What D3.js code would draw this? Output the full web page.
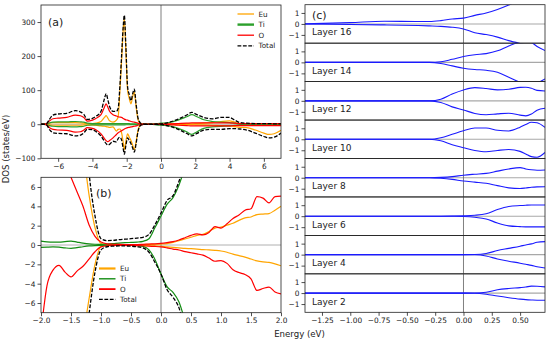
<!DOCTYPE html>
<html><head><meta charset="utf-8">
<script src="https://cdn.jsdelivr.net/npm/d3@7"></script>
<style>body{margin:0;background:#fff}svg{display:block;font-family:"DejaVu Sans",sans-serif}</style>
</head><body>
<svg id="fig" width="550" height="343"></svg>
<script>
// ---------- Panel (a): full-range DOS ----------
const aE = [-7.0,-6.7,-6.5,-6.3,-6.0,-5.5,-5.0,-4.7,-4.5,-4.3,-4.0,-3.8,-3.5,-3.3,-3.2,-3.1,-3.0,-2.8,-2.6,-2.5,-2.4,-2.3,-2.2,-2.14,-2.05,-1.95,-1.85,-1.75,-1.65,-1.56,-1.45,-1.35,-1.25,-1.15,-1.0,-0.5,0,0.5,1.0,1.5,1.8,2.1,2.5,3.0,3.5,4.0,4.3,4.6,5.0,5.5,6.0,6.3,6.6,7.0];
const aEuUp = [0,0,3,5,5,5,5,4,3,2,2,3,8,20,25,18,10,6,12,22,95,185,280,310,215,100,75,60,82,95,50,15,4,1,0,0,0,0.5,1,1,1,2,3,5,8,10,6,2,1,1,1,1,0,0];
const aTiUp = [0,1,4,6,7,7,8,7,6,3,2,2,2,2,2,2,2,2,2,2,2,2,2,2,1.5,1.5,1.5,1,1,1,1,0.5,0.3,0.2,0.1,0.2,3,5,12,22,28,22,13,8,6,5,3,1,0.5,0.5,0.5,0.5,0.5,0.5];
const aOUp = [0,1,10,16,18,20,27,25,20,9,12,17,28,50,60,50,38,28,24,22,21,20,17,15,13,12,10,8,7,6,5,3,2,1,0.3,0,0.2,1,2,3,4,4,4,4,4,4,3,2,2,2,2,2,2,2];
const aTotUp = [0,1,15,27,30,32,40,36,29,14,17,23,38,75,90,72,52,38,38,46,110,200,290,320,230,110,87,69,90,103,58,20,7,2,0.5,0.5,1,6,15,27,35,28,20,16,20,20,12,5,3,2,2,2,1,1];
const aEuDn = [0,0,-2,-3,-3,-3,-3,-3,-2,-2,-2,-3,-5,-6,-7,-8,-9,-8,-20,-15,-14,-25,-55,-75,-50,-28,-38,-48,-62,-75,-50,-20,-5,-1,0,0,0,-0.5,-1,-1,-1,-2,-2,-3,-4,-5,-7,-9,-10,-17,-26,-30,-28,-18];
const aTiDn = [0,-1,-4,-6,-7,-7,-8,-7,-6,-3,-2,-2,-2,-2,-2,-2,-2,-2,-2,-2,-2,-2,-2,-2,-1.5,-1.5,-1.5,-1,-1,-1,-1,-0.5,-0.3,-0.2,-0.1,-0.2,-3,-5,-12,-22,-30,-22,-12,-8,-6,-5,-3,-1,-0.5,-0.5,-0.5,-0.5,-0.5,-0.5];
const aODn = [0,-1,-10,-15,-17,-18,-23,-22,-17,-10,-12,-16,-28,-42,-48,-51,-48,-40,-30,-25,-22,-19,-16,-14,-12,-10,-9,-8,-7,-6,-5,-3,-2,-1,-0.3,0,-0.2,-1,-3,-4,-5,-5,-5,-5,-5,-5,-4,-4,-4,-4,-4,-4,-4,-4];
const aTotDn = [0,-1,-16,-25,-27,-28,-34,-32,-25,-15,-16,-21,-35,-50,-57,-61,-59,-50,-52,-42,-38,-46,-73,-88,-63,-40,-48,-57,-70,-82,-56,-24,-7,-2,-0.5,-0.5,-1,-6,-15,-27,-34,-27,-17,-15,-15,-13,-13,-14,-17,-26,-36,-40,-38,-26];
const aXTicks = [-6,-4,-2,0,2,4,6];
const aYTicks = [-100,0,100,200,300];

// ---------- Panel (b): zoom near the gap ----------
const bE = [-2.0,-1.9,-1.8,-1.7,-1.6,-1.5,-1.4,-1.3,-1.2,-1.1,-1.0,-0.9,-0.8,-0.7,-0.6,-0.5,-0.4,-0.3,-0.2,-0.1,0.0,0.1,0.2,0.3,0.4,0.5,0.6,0.7,0.8,0.9,1.0,1.1,1.2,1.3,1.4,1.5,1.6,1.7,1.8,1.9,2.0];
const bEuUp = [60,50,40,31,24,18,14,10,5.2,1.8,0.15,0.05,0.04,0.04,0.04,0.04,0.04,0.05,0.06,0.08,0.1,0.15,0.28,0.45,0.62,0.8,1.0,1.1,1.4,1.75,1.85,2.05,2.25,2.55,2.8,2.9,3.15,3.2,3.25,3.6,4.0];
const bTiUp = [0.4,0.33,0.3,0.3,0.35,0.4,0.3,0.2,0.12,0.08,0.06,0.1,0.14,0.2,0.24,0.27,0.3,0.38,0.65,1.8,3.0,4.2,4.9,6.2,8.0,9.5,11,12,13,14,13,15,17,19,21,22,24,26,28,26,24];
const bOUp = [20,16,13,10.5,8.5,7,5.5,4.0,2.1,0.9,0.3,0.12,0.08,0.06,0.05,0.05,0.05,0.07,0.1,0.12,0.17,0.25,0.35,0.52,0.75,1.0,1.15,1.05,1.3,1.9,1.75,2.2,2.75,3.1,3.6,3.75,5.0,4.85,4.35,5.0,5.05];
const bTotUp = [85,70,56,44,35,27,21,15,7.5,3.0,0.65,0.45,0.48,0.55,0.6,0.65,0.72,0.8,1.1,2.1,3.3,4.6,5.1,6.6,8.6,11,13,14,15.5,18,17,20,23,26,29,30,34,36,38,37,36];
const bEuDn = [-60,-50,-40,-31,-24,-18,-13.5,-9.5,-5.6,-2.0,-0.15,-0.05,-0.04,-0.04,-0.04,-0.04,-0.05,-0.06,-0.08,-0.1,-0.15,-0.2,-0.25,-0.3,-0.35,-0.38,-0.42,-0.48,-0.5,-0.55,-0.62,-0.75,-0.95,-1.1,-1.25,-1.45,-1.65,-1.75,-1.8,-1.95,-2.15];
const bTiDn = [-0.25,-0.22,-0.2,-0.22,-0.3,-0.35,-0.28,-0.18,-0.1,-0.06,-0.04,-0.04,-0.04,-0.04,-0.04,-0.05,-0.07,-0.15,-0.5,-1.5,-3.0,-4.3,-4.9,-5.9,-7.8,-9.5,-11,-12,-13,-14,-14,-16,-18,-20,-22,-24,-26,-28,-30,-27,-24];
const bODn = [-9,-4.2,-2.6,-2.1,-2.8,-3.3,-2.7,-2.2,-1.45,-0.7,-0.2,-0.08,-0.05,-0.04,-0.04,-0.05,-0.06,-0.08,-0.12,-0.15,-0.2,-0.3,-0.42,-0.52,-0.68,-0.8,-0.92,-1.05,-1.35,-1.68,-1.62,-1.9,-2.55,-2.85,-3.05,-3.5,-4.7,-4.5,-4.35,-4.85,-5.05];
const bTotDn = [-75,-58,-46,-36,-29,-23,-17.5,-12.5,-7.2,-2.8,-0.5,-0.18,-0.12,-0.1,-0.1,-0.12,-0.18,-0.3,-0.75,-1.8,-3.0,-4.6,-5.4,-6.5,-8.8,-11,-12.5,-13.5,-15,-16.5,-16.5,-19,-21.5,-24,-26.5,-29,-32.5,-34,-36.5,-34,-31];
const bXTicks = [-2.0,-1.5,-1.0,-0.5,0.0,0.5,1.0,1.5,2.0];
const bYTicks = [-6,-4,-2,0,2,4,6];

// ---------- Panel (c): layer-resolved DOS ----------
const cE = [-1.4,-1.0,-0.7,-0.4,-0.3,-0.2,-0.1,0,0.1,0.2,0.3,0.4,0.5,0.55,0.6,0.65,0.72];
const layerNames = ["Layer 16","Layer 14","Layer 12","Layer 10","Layer 8","Layer 6","Layer 4","Layer 2"];
const L16up = [0,0.12,0.25,0.22,0.22,0.3,0.45,0.53,0.78,1.0,1.32,1.72,2.2,2.4,2.55,2.65,2.75];
const L16dn = [0,-0.05,-0.09,-0.15,-0.18,-0.22,-0.3,-0.46,-0.8,-0.97,-1.2,-1.52,-1.78,-1.9,-1.98,-2.0,-2.0];
const L14up = [0,0,0,0,0,0.05,0.28,0.53,0.7,0.8,1.05,1.5,1.85,1.92,1.8,1.45,1.07];
const L14dn = [0,0,0,0,0,-0.1,-0.32,-0.53,-0.65,-0.72,-0.9,-1.35,-1.8,-1.95,-1.95,-1.85,-1.5];
const L12up = [0,0,0,0,0,0.15,0.62,0.99,1.2,1.12,1.0,1.05,1.22,1.24,1.15,0.95,0.9];
const L12dn = [0,0,0,0,0,-0.15,-0.55,-0.83,-1.15,-1.27,-1.19,-1.13,-1.3,-1.37,-1.2,-0.85,-0.67];
const L10up = [0,0,0,0,0,0.14,0.45,0.77,1.02,1.02,0.82,0.76,1.1,1.35,1.55,1.5,1.08];
const L10dn = [0,0,0,0,0,-0.14,-0.5,-0.77,-1.02,-1.14,-1.02,-0.93,-1.1,-1.33,-1.58,-1.63,-1.2];
const L8up = [0,0,0,0,0,0.03,0.1,0.23,0.32,0.4,0.6,0.8,0.92,0.8,0.72,0.68,0.7];
const L8dn = [0,0,0,0,0,-0.05,-0.15,-0.3,-0.4,-0.5,-0.72,-0.92,-0.98,-0.93,-0.86,-0.83,-0.82];
const L6up = [0,0,0,0,0,0,0.01,0.03,0.08,0.22,0.6,0.88,0.97,1.0,1.02,1.02,1.02];
const L6dn = [0,0,0,0,0,0,-0.01,-0.03,-0.1,-0.25,-0.62,-0.88,-0.95,-0.97,-0.97,-0.97,-0.97];
const L4up = [0,0,0,0,0,0,0,0,0.01,0.1,0.37,0.57,0.77,0.88,0.98,1.12,1.18];
const L4dn = [0,0,0,0,0,0,0,0,-0.01,-0.12,-0.4,-0.6,-0.78,-0.88,-0.98,-1.1,-1.22];
const L2up = [0,0,0,0,0,0,0,0,0.01,0.08,0.3,0.42,0.5,0.55,0.63,0.62,0.56];
const L2dn = [0,0,0,0,0,0,0,0,-0.01,-0.1,-0.27,-0.42,-0.55,-0.6,-0.63,-0.65,-0.65];
const cXTicks = [-1.25,-1.0,-0.75,-0.5,-0.25,0,0.25,0.5];
const cYTicks = [-1,0,1];

// ---------- drawing ----------
const svg = d3.select("#fig");
const INK = "#222";
const C = {Eu:"#ffa500", TiA:"#2ca02c", TiB:"#138c13", O:"#ff0000", Tot:"#000"};
let clipId = 0;

function styleAxis(sel){
  sel.select(".domain").remove();
  sel.selectAll(".tick line").attr("stroke",INK).attr("stroke-width",0.8);
  sel.selectAll(".tick text").attr("fill",INK).style("font-size","7.4px").style("font-family","DejaVu Sans");
}
function makeClip(x0,y0,w,h){
  const id = "clip"+(clipId++);
  svg.append("clipPath").attr("id",id).append("rect").attr("x",x0).attr("y",y0).attr("width",w).attr("height",h);
  return "url(#"+id+")";
}
function frame(x0,y0,w,h){
  svg.append("rect").attr("x",x0).attr("y",y0).attr("width",w).attr("height",h)
    .attr("fill","none").attr("stroke",INK).attr("stroke-width",0.8);
}

function dosPanel(o){
  const x = d3.scaleLinear().domain(o.xd).range([o.x0,o.x1]);
  const y = d3.scaleLinear().domain(o.yd).range([o.y1,o.y0]);
  const g = svg.append("g").attr("clip-path",makeClip(o.x0,o.y0,o.x1-o.x0,o.y1-o.y0));
  g.append("line").attr("x1",o.x0).attr("x2",o.x1).attr("y1",y(0)).attr("y2",y(0)).attr("stroke","#b0b0b0").attr("stroke-width",1);
  g.append("line").attr("x1",x(0)).attr("x2",x(0)).attr("y1",o.y0).attr("y2",o.y1).attr("stroke","#707070").attr("stroke-width",0.9);
  const line = d3.line().x(d=>x(d[0])).y(d=>y(d[1])).curve(d3.curveMonotoneX);
  o.series.forEach(s=>{
    const pts = o.E.map((e,i)=>[e,s.v[i]]);
    g.append("path").attr("d",line(pts)).attr("fill","none").attr("stroke",s.c)
      .attr("stroke-width",s.w||1.2).attr("stroke-dasharray",s.dash||null);
  });
  frame(o.x0,o.y0,o.x1-o.x0,o.y1-o.y0);
  const ax = svg.append("g").attr("transform",`translate(0,${o.y1})`)
    .call(d3.axisBottom(x).tickValues(o.xt).tickFormat(o.xf).tickSize(3.5).tickPadding(2));
  styleAxis(ax);
  const ay = svg.append("g").attr("transform",`translate(${o.x0},0)`)
    .call(d3.axisLeft(y).tickValues(o.yt).tickFormat(o.yf).tickSize(3.5).tickPadding(2));
  styleAxis(ay);
  svg.append("text").attr("x",o.lab[0]).attr("y",o.lab[1]).text(o.label)
    .attr("fill",INK).style("font-size","11px");
  o.legend.forEach((L,i)=>{
    const yy = o.leg.y + i*o.leg.dy;
    svg.append("line").attr("x1",o.leg.x).attr("x2",o.leg.x+16.5).attr("y1",yy).attr("y2",yy)
      .attr("stroke",L.c).attr("stroke-width",L.w).attr("stroke-dasharray",L.dash||null);
    svg.append("text").attr("x",o.leg.x+21).attr("y",yy).attr("dy","0.35em").text(L.n)
      .attr("fill",INK).style("font-size","7.2px");
  });
}

const dash = "3.8,1.6";
dosPanel({x0:41,x1:281,y0:5,y1:158.3,xd:[-7,7],yd:[-100,350],E:aE,
  xt:aXTicks,yt:aYTicks,xf:d3.format("d"),yf:d3.format("d"),
  label:"(a)",lab:[48,26],
  series:[
    {v:aEuUp,c:C.Eu},{v:aEuDn,c:C.Eu},
    {v:aTiUp,c:C.TiA},{v:aTiDn,c:C.TiA},
    {v:aOUp,c:C.O},{v:aODn,c:C.O},
    {v:aTotUp,c:C.Tot,dash:dash,w:1.3},{v:aTotDn,c:C.Tot,dash:dash,w:1.3}],
  leg:{x:237.5,y:14,dy:10.6},
  legend:[{n:"Eu",c:C.Eu,w:1.3},{n:"Ti",c:C.TiA,w:2.4},{n:"O",c:C.O,w:1.3},{n:"Total",c:C.Tot,w:1.3,dash:dash}]
});

dosPanel({x0:41,x1:281,y0:177.3,y1:312.7,xd:[-2,2],yd:[-7,7],E:bE,
  xt:bXTicks,yt:bYTicks,xf:d3.format(".1f"),yf:d3.format("d"),
  label:"(b)",lab:[96,197],
  series:[
    {v:bEuUp,c:C.Eu},{v:bEuDn,c:C.Eu},
    {v:bTiUp,c:C.TiB},{v:bTiDn,c:C.TiB},
    {v:bOUp,c:C.O},{v:bODn,c:C.O},
    {v:bTotUp,c:C.Tot,dash:dash,w:1.3},{v:bTotDn,c:C.Tot,dash:dash,w:1.3}],
  leg:{x:99,y:268.5,dy:10.3},
  legend:[{n:"Eu",c:C.Eu,w:2.2},{n:"Ti",c:C.TiB,w:1.4},{n:"O",c:C.O,w:1.8},{n:"Total",c:C.Tot,w:1.3,dash:dash}]
});

// panel (c)
const layers = [[L16up,L16dn],[L14up,L14dn],[L12up,L12dn],[L10up,L10dn],[L8up,L8dn],[L6up,L6dn],[L4up,L4dn],[L2up,L2dn]];
const cx0 = 305, cx1 = 545, cTop = 4.7, cBot = 312.3;
const hh = (cBot-cTop)/layers.length;
const xc = d3.scaleLinear().domain([-1.4,0.72]).range([cx0,cx1]);
layers.forEach((pair,k)=>{
  const t = cTop + k*hh, b = t+hh;
  const yc = d3.scaleLinear().domain([-1.75,1.75]).range([b,t]);
  const g = svg.append("g").attr("clip-path",makeClip(cx0,t,cx1-cx0,hh));
  g.append("line").attr("x1",cx0).attr("x2",cx1).attr("y1",yc(0)).attr("y2",yc(0)).attr("stroke","#a8a8a8").attr("stroke-width",1.1);
  g.append("line").attr("x1",xc(0)).attr("x2",xc(0)).attr("y1",t).attr("y2",b).attr("stroke","#606060").attr("stroke-width",0.8);
  const line = d3.line().x(d=>xc(d[0])).y(d=>yc(d[1])).curve(d3.curveMonotoneX);
  pair.forEach(vals=>{
    g.append("path").attr("d",line(cE.map((e,i)=>[e,vals[i]]))).attr("fill","none")
      .attr("stroke","#1a1aff").attr("stroke-width",1.1);
  });
  frame(cx0,t,cx1-cx0,hh);
  const ay = svg.append("g").attr("transform",`translate(${cx0},0)`)
    .call(d3.axisLeft(yc).tickValues(cYTicks).tickFormat(d3.format("d")).tickSize(3.5).tickPadding(2));
  styleAxis(ay);
  svg.append("text").attr("x",312).attr("y",yc(0)+11.5).text(layerNames[k])
    .attr("fill",INK).style("font-size","9px");
  if(k===layers.length-1){
    const ax = svg.append("g").attr("transform",`translate(0,${b})`)
      .call(d3.axisBottom(xc).tickValues(cXTicks).tickFormat(d3.format(".2f")).tickSize(3.5).tickPadding(2));
    styleAxis(ax);
  }
});
svg.append("text").attr("x",312).attr("y",18.5).text("(c)").attr("fill",INK).style("font-size","11px");

// shared labels
svg.append("text").attr("x",299.5).attr("y",337).attr("text-anchor","middle").text("Energy (eV)")
  .attr("fill",INK).style("font-size","8.6px");
svg.append("text").attr("transform","translate(8.5,149) rotate(-90)").attr("text-anchor","middle").text("DOS (states/eV)")
  .attr("fill",INK).style("font-size","8.6px");
</script>
</body></html>
